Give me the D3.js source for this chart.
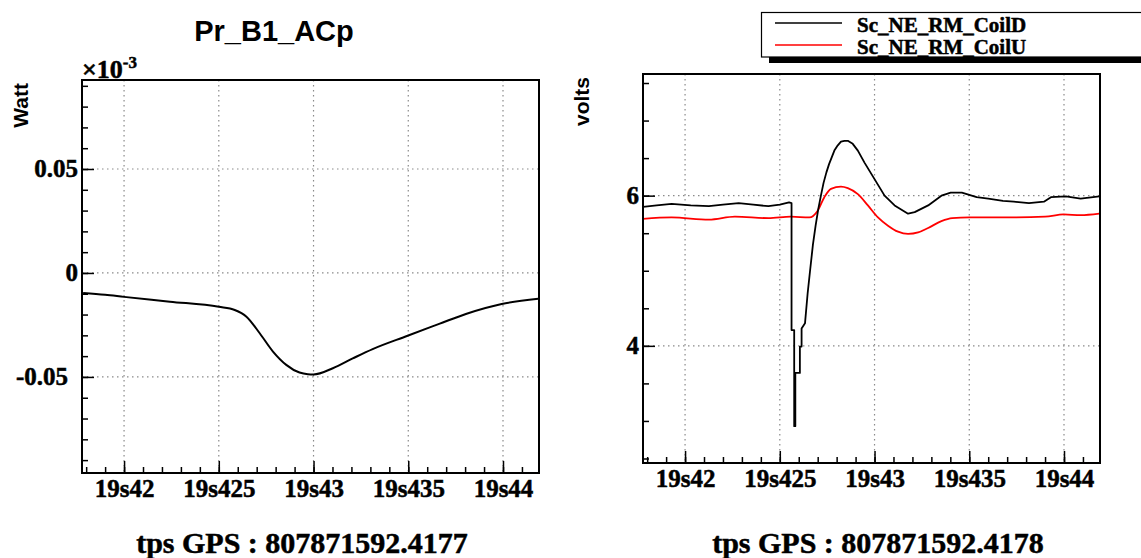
<!DOCTYPE html>
<html>
<head>
<meta charset="utf-8">
<script src="https://cdn.jsdelivr.net/npm/d3@7"></script>
<style>
    html, body { margin: 0; padding: 0; background: #fff; }
    svg { display: block; }
    .serif { font-family: "Liberation Serif", "Times New Roman", serif; font-weight: bold; }
    .sans { font-family: "Liberation Sans", Arial, Helvetica, sans-serif; font-weight: bold; }
    .heavy { stroke: #000; stroke-width: 0.5px; }
    .grid line { stroke: #8a8a8a; stroke-width: 1.2; stroke-dasharray: 1.5 3.5; }
    .tick line { stroke: #000; stroke-width: 1.5; }
</style>
</head>
<body>
<svg id="chart" width="1141" height="558"></svg>
<script>
// time axis (seconds of the GPS minute), shared by both pads
var timeDomain = [19.41778, 19.4419];
var timeTickValues = [19.42, 19.425, 19.43, 19.435, 19.44];
var timeTickLabels = ['19s42', '19s425', '19s43', '19s435', '19s44'];

// left pad: Pr_B1_ACp, values in units of 1e-3 Watt
var powerDomain = [-0.0962, 0.0928];
var powerTickValues = [-0.05, 0, 0.05];
var powerTickLabels = ['-0.05', '0', '0.05'];
var powerSeries = [
    [19.41784, -0.0096], [19.4190, -0.0105], [19.4200, -0.0115], [19.42242, -0.0138],
    [19.4250, -0.0163], [19.42584, -0.0178], [19.42646, -0.0210], [19.42716, -0.0290],
    [19.42786, -0.0378], [19.42856, -0.0442], [19.42926, -0.0479], [19.42970, -0.0487],
    [19.4300, -0.0488], [19.43102, -0.0458], [19.43207, -0.0411], [19.43312, -0.0366],
    [19.43493, -0.0303], [19.43663, -0.0245], [19.43804, -0.0197], [19.43993, -0.0149],
    [19.44186, -0.0124]
];

// right pad: coil voltages
var voltDomain = [2.44, 7.62];
var voltTickValues = [4, 6];
var voltTickLabels = ['4', '6'];
var coilNames = ['Sc_NE_RM_CoilD', 'Sc_NE_RM_CoilU'];
var coilColors = ['#000000', '#ff0000'];
var coilDSeries = [
    [19.41776, 5.85], [19.4185, 5.87], [19.41929, 5.89], [19.4203, 5.87], [19.42126, 5.86],
    [19.4220, 5.88], [19.42283, 5.90], [19.4236, 5.88], [19.4244, 5.86], [19.4250, 5.88],
    [19.42549, 5.91], [19.42562, 5.90], [19.42562, 4.21], [19.42576, 4.21], [19.42576, 2.93],
    [19.42582, 2.93], [19.42582, 3.64], [19.42606, 3.64], [19.42606, 3.99], [19.42615, 3.99],
    [19.42615, 4.23], [19.42633, 4.30], [19.42647, 4.70], [19.42661, 5.03], [19.42675, 5.35],
    [19.42689, 5.60], [19.42703, 5.82], [19.42717, 6.00], [19.42731, 6.17], [19.42746, 6.31],
    [19.42760, 6.42], [19.42774, 6.51], [19.42788, 6.60], [19.42806, 6.67], [19.42823, 6.72],
    [19.42841, 6.73], [19.42859, 6.73], [19.42885, 6.69], [19.42912, 6.60], [19.42947, 6.44],
    [19.43000, 6.22], [19.43053, 6.00], [19.43106, 5.87], [19.43177, 5.76], [19.43212, 5.78],
    [19.43283, 5.87], [19.43353, 6.00], [19.43402, 6.04], [19.43461, 6.04], [19.43539, 5.98],
    [19.43600, 5.96], [19.43678, 5.93], [19.43735, 5.92], [19.43815, 5.90], [19.43894, 5.92],
    [19.43931, 5.98], [19.44010, 5.99], [19.44088, 5.96], [19.44186, 5.99]
];
var coilUSeries = [
    [19.41776, 5.69], [19.41929, 5.71], [19.42126, 5.68], [19.42263, 5.72], [19.42440, 5.70],
    [19.42558, 5.72], [19.42656, 5.71], [19.42700, 5.80], [19.42735, 5.98], [19.42770, 6.09],
    [19.42823, 6.12], [19.42859, 6.10], [19.42912, 6.02], [19.42965, 5.87], [19.43018, 5.71],
    [19.43071, 5.60], [19.43124, 5.52], [19.43177, 5.49], [19.43230, 5.51], [19.43283, 5.57],
    [19.43353, 5.66], [19.43410, 5.70], [19.43500, 5.71], [19.43700, 5.71], [19.43900, 5.72],
    [19.43998, 5.75], [19.44088, 5.74], [19.44186, 5.76]
];

(function() {
    'use strict';

    var svg = d3.select('#chart');

    function drawPad(opts) {
        var f = opts.frame;
        var g = svg.append('g');

        var x = d3.scaleLinear().domain(timeDomain).range([f.x0, f.x1]);
        var y = d3.scaleLinear().domain(opts.yDomain).range([f.y1, f.y0]);

        var clipId = 'clip-' + opts.id;
        g.append('clipPath').attr('id', clipId)
            .append('rect')
            .attr('x', f.x0).attr('y', f.y0)
            .attr('width', f.x1 - f.x0).attr('height', f.y1 - f.y0);

        // dotted grid at the labelled ticks
        var grid = g.append('g').attr('class', 'grid');
        grid.selectAll('line.gx')
            .data(timeTickValues)
            .join('line')
            .attr('class', 'gx')
            .attr('x1', function(d) { return x(d); })
            .attr('x2', function(d) { return x(d); })
            .attr('y1', f.y0).attr('y2', f.y1);
        grid.selectAll('line.gy')
            .data(opts.yTickValues)
            .join('line')
            .attr('class', 'gy')
            .attr('x1', f.x0).attr('x2', f.x1)
            .attr('y1', function(d) { return y(d); })
            .attr('y2', function(d) { return y(d); });

        // curves
        var plot = g.append('g').attr('clip-path', 'url(#' + clipId + ')');
        opts.series.forEach(function(s) {
            var line = d3.line()
                .x(function(d) { return x(d[0]); })
                .y(function(d) { return y(d[1]); })
                .curve(s.curve);
            plot.append('path')
                .datum(s.data)
                .attr('fill', 'none')
                .attr('stroke', s.color)
                .attr('stroke-width', s.width)
                .attr('stroke-linejoin', 'round')
                .attr('d', line);
        });

        // minor ticks (inward)
        g.append('g')
            .attr('transform', 'translate(0,' + f.y1 + ')')
            .call(d3.axisBottom(x).ticks(24).tickSize(-6).tickFormat(''))
            .call(function(a) { a.select('.domain').remove(); });
        g.append('g')
            .attr('transform', 'translate(' + f.x0 + ',0)')
            .call(d3.axisLeft(y).ticks(opts.yMinor).tickSize(-6).tickFormat(''))
            .call(function(a) { a.select('.domain').remove(); });

        // major ticks with labels
        var xAxis = g.append('g')
            .attr('class', 'serif')
            .attr('transform', 'translate(0,' + f.y1 + ')')
            .call(d3.axisBottom(x)
                .tickValues(timeTickValues)
                .tickFormat(function(d, i) { return timeTickLabels[i]; })
                .tickSize(-12)
                .tickPadding(6));
        xAxis.select('.domain').remove();
        xAxis.selectAll('text')
            .attr('class', 'heavy')
            .attr('fill', '#000')
            .style('font-size', '25px');

        var yAxis = g.append('g')
            .attr('class', 'serif')
            .attr('transform', 'translate(' + f.x0 + ',0)')
            .call(d3.axisLeft(y)
                .tickValues(opts.yTickValues)
                .tickFormat(function(d, i) { return opts.yTickLabels[i]; })
                .tickSize(-12)
                .tickPadding(4));
        yAxis.select('.domain').remove();
        yAxis.selectAll('text')
            .attr('class', 'heavy')
            .attr('fill', '#000')
            .style('font-size', '25px')
            // negative labels sit a little further from the axis, as in the original
            .attr('dx', function(d) { return d < 0 ? -10 : 0; });

        // frame
        g.append('rect')
            .attr('x', f.x0).attr('y', f.y0)
            .attr('width', f.x1 - f.x0).attr('height', f.y1 - f.y0)
            .attr('fill', 'none')
            .attr('stroke', '#000')
            .attr('stroke-width', 2);

        // y title, rotated, aligned on the top of the axis
        g.append('text')
            .attr('class', 'sans')
            .attr('transform', 'translate(' + opts.yTitleX + ',' + (f.y0 + 3) + ') rotate(-90)')
            .attr('text-anchor', 'end')
            .style('font-size', '21px')
            .text(opts.yTitle);

        // GPS time under the pad
        g.append('text')
            .attr('class', 'serif heavy')
            .attr('x', opts.gpsX)
            .attr('y', 553)
            .attr('text-anchor', 'middle')
            .style('font-size', '30px')
            .text(opts.gpsLabel);

        return { x: x, y: y, g: g };
    }

    // left pad
    var left = drawPad({
        id: 'left',
        frame: { x0: 82, y0: 80, x1: 539, y1: 473 },
        yDomain: powerDomain,
        yTickValues: powerTickValues,
        yTickLabels: powerTickLabels,
        yMinor: 19,
        yTitle: 'Watt',
        yTitleX: 28,
        gpsX: 302,
        gpsLabel: 'tps GPS : 807871592.4177',
        series: [
            { data: powerSeries, color: '#000', width: 2, curve: d3.curveMonotoneX }
        ]
    });

    // exponent label
    var expo = left.g.append('text')
        .attr('class', 'serif heavy')
        .attr('x', 82)
        .attr('y', 78)
        .style('font-size', '26px');
    expo.append('tspan').text('\u00d710');
    expo.append('tspan').attr('dy', -10).style('font-size', '17px').text('-3');

    // title
    svg.append('text')
        .attr('class', 'sans')
        .attr('x', 274)
        .attr('y', 41)
        .attr('text-anchor', 'middle')
        .style('font-size', '29px')
        .text('Pr_B1_ACp');

    // right pad
    drawPad({
        id: 'right',
        frame: { x0: 643, y0: 74, x1: 1100, y1: 463 },
        yDomain: voltDomain,
        yTickValues: voltTickValues,
        yTickLabels: voltTickLabels,
        yMinor: 10,
        yTitle: 'volts',
        yTitleX: 589,
        gpsX: 878,
        gpsLabel: 'tps GPS : 807871592.4178',
        series: [
            { data: coilUSeries, color: coilColors[1], width: 1.8, curve: d3.curveMonotoneX },
            { data: coilDSeries, color: coilColors[0], width: 1.8, curve: d3.curveLinear }
        ]
    });

    // legend with shadow
    var lg = svg.append('g');
    lg.append('rect')
        .attr('x', 769).attr('y', 18)
        .attr('width', 400).attr('height', 45)
        .attr('fill', '#000');
    lg.append('rect')
        .attr('x', 761.5).attr('y', 12.5)
        .attr('width', 400).attr('height', 44.5)
        .attr('fill', '#fff')
        .attr('stroke', '#000')
        .attr('stroke-width', 1.2);
    coilNames.forEach(function(name, i) {
        var yy = 23 + i * 22;
        lg.append('line')
            .attr('x1', 775).attr('x2', 842)
            .attr('y1', yy).attr('y2', yy)
            .attr('stroke', coilColors[i])
            .attr('stroke-width', 1.5);
        lg.append('text')
            .attr('class', 'serif heavy')
            .attr('x', 857)
            .attr('y', yy + 9)
            .style('font-size', '21px')
            .text(name);
    });
})();
</script>
</body>
</html>
